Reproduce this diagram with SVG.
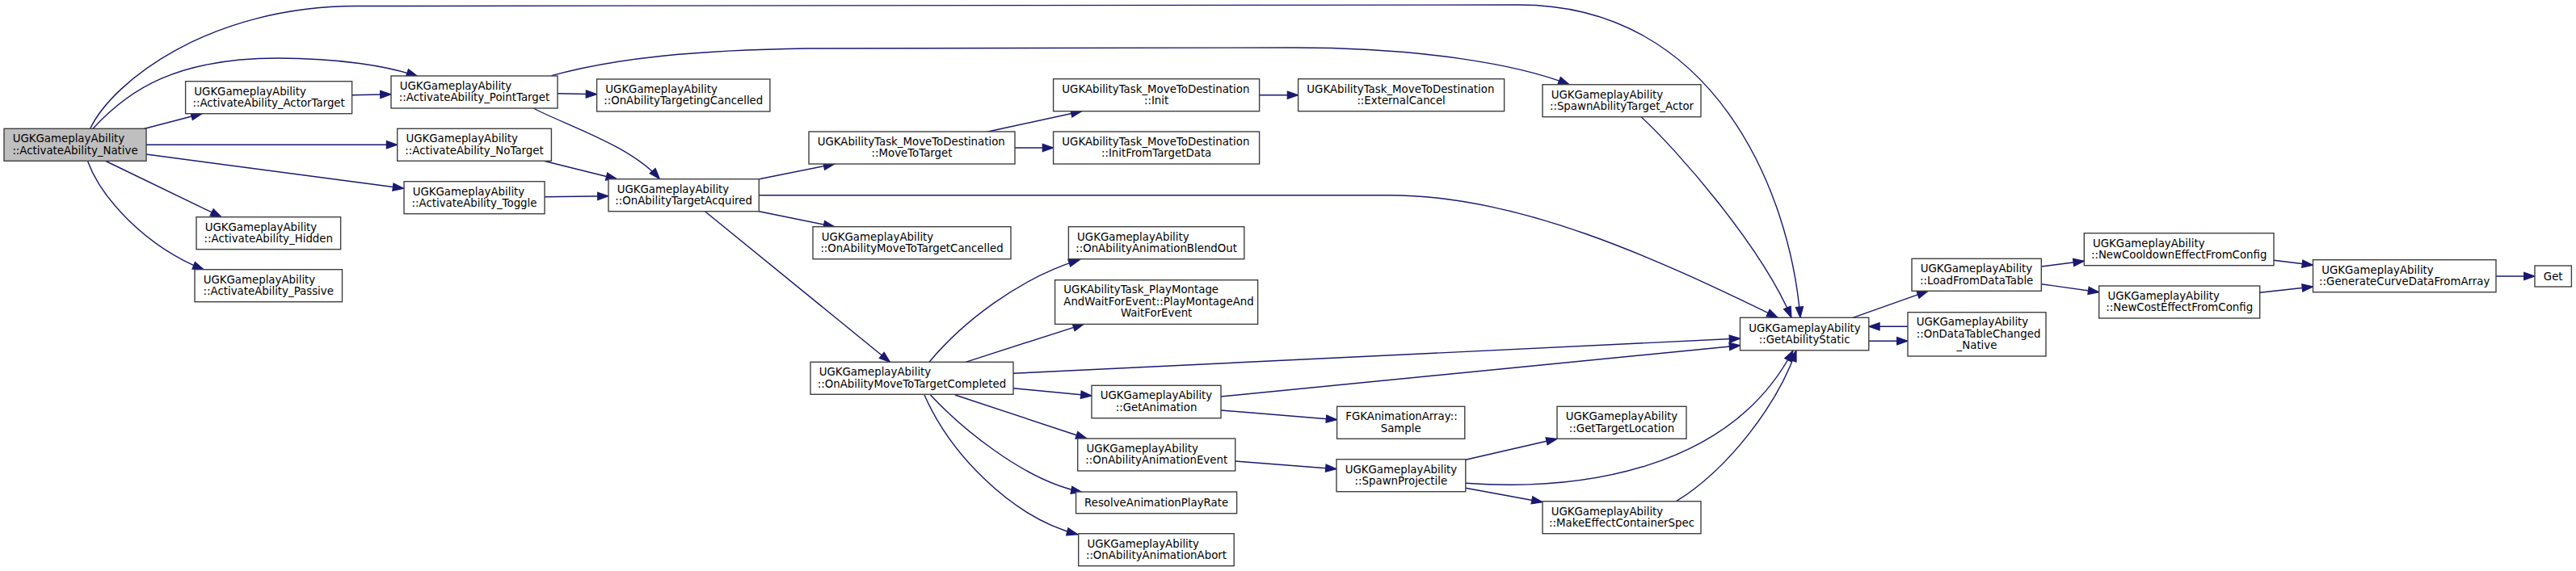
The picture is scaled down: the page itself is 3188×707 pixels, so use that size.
<svg xmlns="http://www.w3.org/2000/svg" width="3188" height="707" viewBox="0 0 3188 707">
<style>
text{font-family:"DejaVu Sans","Liberation Sans",sans-serif;font-size:13.33px;fill:#000}
.l{text-anchor:start}
.c{text-anchor:middle}
.n{fill:#fff;stroke:#404040;stroke-width:1.4}
.root{fill:#bfbfbf;stroke:#404040;stroke-width:1.4}
.e{fill:none;stroke:#191970;stroke-width:1.4;marker-end:url(#ah)}
</style>
<defs>
<marker id="ah" markerWidth="16" markerHeight="12" refX="13.3" refY="4.67" orient="auto" markerUnits="userSpaceOnUse" overflow="visible">
<path d="M0,0 L13.3,4.67 L0,9.33 z" fill="#191970" stroke="#191970" stroke-width="1.2"/>
</marker>
</defs>
<rect width="3188" height="707" fill="#fff"/>
<g id="connectors">
<path class="e" d="M178,159.5 L250,140.7"/>
<path class="e" d="M115,159.3 C160,110 220,72 344,72 C420,72 480,82 516.6,94.3"/>
<path class="e" d="M111.6,159.3 C140,100 260,8 440,7.5 L1880,6 C2120,6 2215,235 2228,393.3"/>
<path class="e" d="M181,179.3 L491.7,179.3"/>
<path class="e" d="M181,191 L499.6,233.3"/>
<path class="e" d="M131,199.5 L274,268.7"/>
<path class="e" d="M108.5,199.5 C125,245 180,305 252,333.7"/>
<path class="e" d="M435.6,117.7 L484,116.7"/>
<path class="e" d="M690,115.7 L738.6,116.7"/>
<path class="e" d="M682.5,93.7 C760,72 860,62 1000,60 L1600,59 C1760,59 1880,80 1942,104.7"/>
<path class="e" d="M660,134 C700,155 780,180 816.4,221.7"/>
<path class="e" d="M673,199.3 L763.5,221.7"/>
<path class="e" d="M674,243.7 L753,242.7"/>
<path class="e" d="M939.3,221.7 L1032.7,203"/>
<path class="e" d="M939.3,241.7 L1720,241.7 C1880,241.7 2050,320 2200,393.3"/>
<path class="e" d="M939.3,261.7 L1032.7,280.7"/>
<path class="e" d="M872.5,261.7 L1101.5,448.3"/>
<path class="e" d="M1221.4,163.3 L1338.8,137.7"/>
<path class="e" d="M1256,183 L1303.6,183"/>
<path class="e" d="M1558.7,117.7 L1606.6,117.7"/>
<path class="e" d="M2031,144.7 C2075,185 2180,305 2217,393.3"/>
<path class="e" d="M1150,448.3 C1190,400 1260,345 1336,321.7"/>
<path class="e" d="M1195,448.3 L1341.3,401.3"/>
<path class="e" d="M1254,462.3 L2153.6,419"/>
<path class="e" d="M1254,480.7 L1351,490"/>
<path class="e" d="M1182,489 L1345,543"/>
<path class="e" d="M1151.5,489 C1185,525 1265,595 1339,609.3"/>
<path class="e" d="M1144,489 C1175,560 1250,640 1333.7,661.7"/>
<path class="e" d="M1511,491 L2153.6,427.7"/>
<path class="e" d="M1511,508 L1654.6,519.7"/>
<path class="e" d="M1528.6,571 L1654,580.7"/>
<path class="e" d="M1813.8,569.3 L1927,543.3"/>
<path class="e" d="M1813.8,598.3 C1950,608 2140,585 2219,434"/>
<path class="e" d="M1813.8,604.3 L1909,621.7"/>
<path class="e" d="M2074.5,620.7 C2140,580 2200,500 2223,434"/>
<path class="e" d="M2293,393.3 L2386,360.3"/>
<path class="e" d="M2312.8,422.3 L2361,422.3"/>
<path class="e" d="M2361,404.3 L2312.8,404.3"/>
<path class="e" d="M2526.3,330 L2579.3,323.3"/>
<path class="e" d="M2526.3,351.7 L2597.7,361.7"/>
<path class="e" d="M2814,322.3 L2862.5,328.3"/>
<path class="e" d="M2796.7,362.3 L2862.5,355"/>
<path class="e" d="M3089,342 L3137,342"/>
</g>
<g id="n1"><rect class="root" x="5" y="159.3" width="176" height="40"/><text class="l" x="15.7" y="176.1">UGKGameplayAbility</text><text class="c" x="93" y="190.6">::ActivateAbility_Native</text></g>
<g id="n2"><rect class="n" x="229.6" y="100.7" width="206" height="40"/><text class="l" x="240.3" y="117.5">UGKGameplayAbility</text><text class="c" x="332.6" y="132">::ActivateAbility_ActorTarget</text></g>
<g id="n3"><rect class="n" x="484" y="94" width="206" height="40"/><text class="l" x="494.7" y="110.8">UGKGameplayAbility</text><text class="c" x="587" y="125.3">::ActivateAbility_PointTarget</text></g>
<g id="n4"><rect class="n" x="738.6" y="98" width="214.3" height="40"/><text class="l" x="749.3" y="114.8">UGKGameplayAbility</text><text class="c" x="845.75" y="129.3">::OnAbilityTargetingCancelled</text></g>
<g id="n5"><rect class="n" x="491.7" y="159.3" width="190.7" height="40"/><text class="l" x="502.4" y="176.1">UGKGameplayAbility</text><text class="c" x="587" y="190.6">::ActivateAbility_NoTarget</text></g>
<g id="n6"><rect class="n" x="500" y="224.7" width="174" height="40"/><text class="l" x="510.7" y="241.5">UGKGameplayAbility</text><text class="c" x="587" y="256">::ActivateAbility_Toggle</text></g>
<g id="n7"><rect class="n" x="753" y="221.7" width="186.3" height="40"/><text class="l" x="763.7" y="238.5">UGKGameplayAbility</text><text class="c" x="846.15" y="253">::OnAbilityTargetAcquired</text></g>
<g id="n8"><rect class="n" x="243" y="268.7" width="178.6" height="40"/><text class="l" x="253.7" y="285.5">UGKGameplayAbility</text><text class="c" x="332.3" y="300">::ActivateAbility_Hidden</text></g>
<g id="n9"><rect class="n" x="241" y="333.7" width="182.5" height="40"/><text class="l" x="251.7" y="350.5">UGKGameplayAbility</text><text class="c" x="332.25" y="365">::ActivateAbility_Passive</text></g>
<g id="n10"><rect class="n" x="1001" y="163" width="255" height="40"/><text class="l" x="1011.7" y="179.8">UGKAbilityTask_MoveToDestination</text><text class="c" x="1128.5" y="194.3">::MoveToTarget</text></g>
<g id="n11"><rect class="n" x="1303.6" y="97.7" width="255" height="40"/><text class="l" x="1314.3" y="114.5">UGKAbilityTask_MoveToDestination</text><text class="c" x="1431.1" y="129">::Init</text></g>
<g id="n12"><rect class="n" x="1303.6" y="163" width="255" height="40"/><text class="l" x="1314.3" y="179.8">UGKAbilityTask_MoveToDestination</text><text class="c" x="1431.1" y="194.3">::InitFromTargetData</text></g>
<g id="n13"><rect class="n" x="1606.6" y="97.7" width="255" height="40"/><text class="l" x="1617.3" y="114.5">UGKAbilityTask_MoveToDestination</text><text class="c" x="1734.1" y="129">::ExternalCancel</text></g>
<g id="n14"><rect class="n" x="1909" y="104.7" width="196" height="40"/><text class="l" x="1919.7" y="121.5">UGKGameplayAbility</text><text class="c" x="2007" y="136">::SpawnAbilityTarget_Actor</text></g>
<g id="n15"><rect class="n" x="1006" y="280.7" width="245" height="40"/><text class="l" x="1016.7" y="297.5">UGKGameplayAbility</text><text class="c" x="1128.5" y="312">::OnAbilityMoveToTargetCancelled</text></g>
<g id="n16"><rect class="n" x="1322.4" y="280.7" width="217.4" height="40"/><text class="l" x="1333.1" y="297.5">UGKGameplayAbility</text><text class="c" x="1431.1" y="312">::OnAbilityAnimationBlendOut</text></g>
<g id="n17"><rect class="n" x="1305.6" y="346.7" width="251" height="54.7"/><text class="l" x="1316.3" y="363.2">UGKAbilityTask_PlayMontage</text><text class="l" x="1316.3" y="377.7">AndWaitForEvent::PlayMontageAnd</text><text class="c" x="1431.1" y="392.2">WaitForEvent</text></g>
<g id="n18"><rect class="n" x="1003" y="448.3" width="251" height="40"/><text class="l" x="1013.7" y="465.1">UGKGameplayAbility</text><text class="c" x="1128.5" y="479.6">::OnAbilityMoveToTargetCompleted</text></g>
<g id="n19"><rect class="n" x="1351" y="477.3" width="160" height="40.4"/><text class="l" x="1361.7" y="494.1">UGKGameplayAbility</text><text class="c" x="1431" y="508.6">::GetAnimation</text></g>
<g id="n20"><rect class="n" x="1654.6" y="503.3" width="158.2" height="40"/><text class="l" x="1665.3" y="520.1">FGKAnimationArray::</text><text class="c" x="1733.7" y="534.6">Sample</text></g>
<g id="n21"><rect class="n" x="1333.7" y="543" width="195" height="40"/><text class="l" x="1344.4" y="559.8">UGKGameplayAbility</text><text class="c" x="1431.2" y="574.3">::OnAbilityAnimationEvent</text></g>
<g id="n22"><rect class="n" x="1654" y="568.7" width="159.8" height="40"/><text class="l" x="1664.7" y="585.5">UGKGameplayAbility</text><text class="c" x="1733.9" y="600">::SpawnProjectile</text></g>
<g id="n23"><rect class="n" x="1331.6" y="609" width="199" height="26.7"/><text class="c" x="1431.1" y="626.8">ResolveAnimationPlayRate</text></g>
<g id="n24"><rect class="n" x="1334.7" y="660.7" width="192.5" height="40"/><text class="l" x="1345.4" y="677.5">UGKGameplayAbility</text><text class="c" x="1430.95" y="692">::OnAbilityAnimationAbort</text></g>
<g id="n25"><rect class="n" x="1927" y="503.3" width="160" height="40"/><text class="l" x="1937.7" y="520.1">UGKGameplayAbility</text><text class="c" x="2007" y="534.6">::GetTargetLocation</text></g>
<g id="n26"><rect class="n" x="1909" y="620.7" width="196" height="40"/><text class="l" x="1919.7" y="637.5">UGKGameplayAbility</text><text class="c" x="2007" y="652">::MakeEffectContainerSpec</text></g>
<g id="n27"><rect class="n" x="2153.5" y="393.3" width="159.3" height="40.5"/><text class="l" x="2164.2" y="410.6">UGKGameplayAbility</text><text class="c" x="2233.15" y="425.1">::GetAbilityStatic</text></g>
<g id="n28"><rect class="n" x="2366" y="320.3" width="160.3" height="40"/><text class="l" x="2376.7" y="337.1">UGKGameplayAbility</text><text class="c" x="2446.15" y="351.6">::LoadFromDataTable</text></g>
<g id="n29"><rect class="n" x="2361" y="386.7" width="171" height="54.3"/><text class="l" x="2371.7" y="403.2">UGKGameplayAbility</text><text class="l" x="2371.7" y="417.7">::OnDataTableChanged</text><text class="c" x="2446.5" y="432.2">_Native</text></g>
<g id="n30"><rect class="n" x="2579.3" y="288.7" width="234.7" height="40"/><text class="l" x="2590" y="305.5">UGKGameplayAbility</text><text class="c" x="2696.65" y="320">::NewCooldownEffectFromConfig</text></g>
<g id="n31"><rect class="n" x="2597.7" y="354" width="199" height="40"/><text class="l" x="2608.4" y="370.8">UGKGameplayAbility</text><text class="c" x="2697.2" y="385.3">::NewCostEffectFromConfig</text></g>
<g id="n32"><rect class="n" x="2862.5" y="321.7" width="226.5" height="40"/><text class="l" x="2873.2" y="338.5">UGKGameplayAbility</text><text class="c" x="2975.75" y="353">::GenerateCurveDataFromArray</text></g>
<g id="n33"><rect class="n" x="3137" y="329" width="45.4" height="26"/><text class="c" x="3159.7" y="346.5">Get</text></g>
</svg>
